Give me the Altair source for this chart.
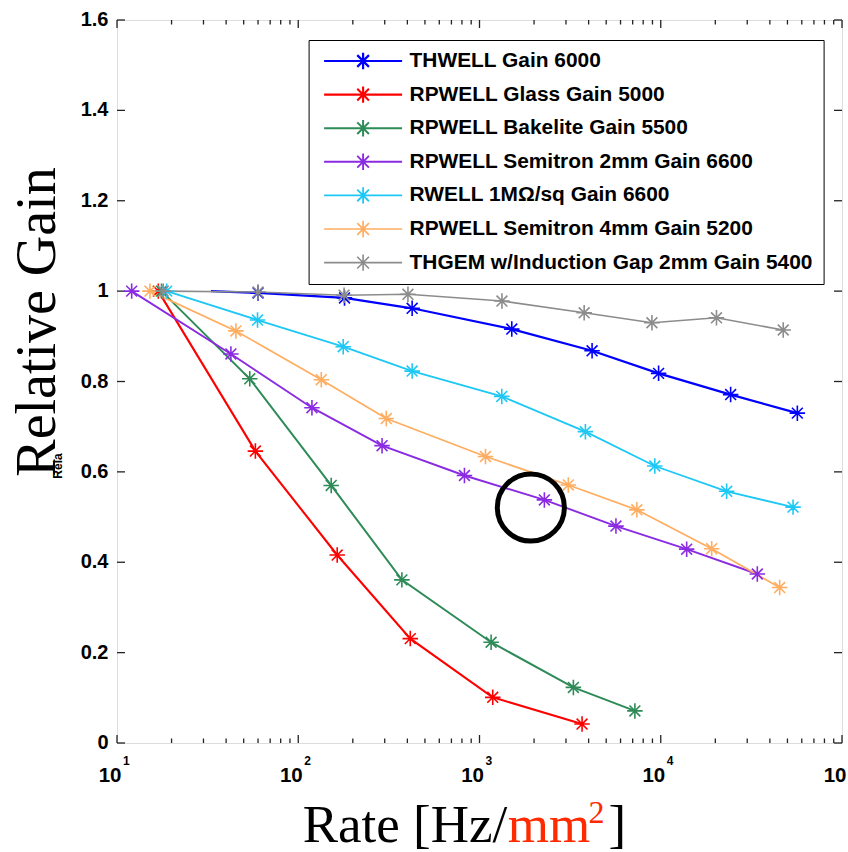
import altair as alt
import pandas as pd

# ---------------- data ----------------
names = [
    "THWELL Gain 6000",
    "RPWELL Glass Gain 5000",
    "RPWELL Bakelite Gain 5500",
    "RPWELL Semitron 2mm Gain 6600",
    "RWELL 1MΩ/sq Gain 6600",
    "RPWELL Semitron 4mm Gain 5200",
    "THGEM w/Induction Gap 2mm Gain 5400",
]
colors = ["#0000ff", "#ff0000", "#2e8b57", "#8a2be2", "#1ec8f5", "#ffad60", "#8c8c8c"]
widths = [2.2, 1.6, 1.6, 1.8, 1.6, 1.6, 1.6]

thwell_x = [33, 60, 180, 425, 1507, 4180, 9730, 24300, 56700]
thwell_y = [1.0, 0.996, 0.985, 0.962, 0.916, 0.868, 0.818, 0.771, 0.730]

glass_x = [16.9, 58, 164, 415, 1183, 3680]
glass_y = [1.0, 0.646, 0.416, 0.231, 0.101, 0.042]

bakelite_x = [17.6, 54, 152, 373, 1159, 3296, 7200]
bakelite_y = [1.0, 0.806, 0.570, 0.361, 0.223, 0.123, 0.071]

semi2_x = [12.05, 42.5, 119, 290, 826, 2280, 5660, 13900, 34100]
semi2_y = [1.0, 0.861, 0.742, 0.658, 0.592, 0.538, 0.480, 0.429, 0.374]

rwell_x = [18.8, 59.6, 177, 425, 1327, 3840, 9270, 23100, 53700]
rwell_y = [1.0, 0.936, 0.877, 0.823, 0.767, 0.689, 0.613, 0.557, 0.522]

semi4_x = [15.2, 45.3, 134, 306, 1079, 3090, 7380, 19100, 45300]
semi4_y = [1.0, 0.912, 0.804, 0.718, 0.634, 0.571, 0.516, 0.430, 0.344]

thgem_x = [18, 60, 179, 403, 1330, 3780, 8940, 20300, 47400]
thgem_y = [1.0, 0.998, 0.991, 0.993, 0.978, 0.952, 0.930, 0.941, 0.914]

# points of each series drawn without a marker (line start only)
no_marker = [0, None, None, None, None, None, None]

circle_x = [1920]
circle_y = [0.521]

x_major = [10, 100, 1000, 10000, 100000]
x_minor = [k * 10 ** e for e in range(1, 5) for k in range(2, 10)]
x_exps = [1, 2, 3, 4, 5]
y_ticks = [0, 0.2, 0.4, 0.6, 0.8, 1.0, 1.2, 1.4, 1.6]
y_labels = ["0", "0.2", "0.4", "0.6", "0.8", "1", "1.2", "1.4", "1.6"]

# ---------------- tables ----------------
all_x = [thwell_x, glass_x, bakelite_x, semi2_x, rwell_x, semi4_x, thgem_x]
all_y = [thwell_y, glass_y, bakelite_y, semi2_y, rwell_y, semi4_y, thgem_y]
rows = []
for si, (name, xs, ys) in enumerate(zip(names, all_x, all_y)):
    for i, (a, b) in enumerate(zip(xs, ys)):
        rows.append({"series": name, "rate": a, "gain": b, "order": si * 100 + i,
                     "marker": not (no_marker[si] == i)})
df = pd.DataFrame(rows)

W, H = 725, 723
FRAME = "#222222"
xscale = alt.Scale(type="log", domain=[10, 100000], nice=False)
yscale = alt.Scale(domain=[0, 1.6], nice=False, zero=False)

star = "M0,-1V1M-1,0H1M-0.7,-0.7L0.7,0.7M-0.7,0.7L0.7,-0.7"
leg_sym = "M-1,0H1M0,-0.21V0.21M-0.21,0H0.21M-0.15,-0.15L0.15,0.15M-0.15,0.15L0.15,-0.15"

legend = alt.Legend(
    title=None, orient="none", legendX=191.6, legendY=20,
    symbolType=leg_sym, symbolSize=6084, symbolStrokeWidth=1.6,
    labelFont="Liberation Sans", labelFontWeight="bold", labelFontSize=20.9,
    labelColor="black", clipHeight=20, rowPadding=12.6, labelOffset=6,
    padding=11, symbolOffset=3, strokeColor="black", fillColor="white",
    cornerRadius=0, labelLimit=700,
)
color = alt.Color("series:N", scale=alt.Scale(domain=names, range=colors), legend=legend)

X = alt.X("rate:Q", scale=xscale, axis=None)
Y = alt.Y("gain:Q", scale=yscale, axis=None)

lines = alt.Chart(df).mark_line(clip=True).encode(
    x=X, y=Y, color=color,
    strokeWidth=alt.StrokeWidth("series:N", scale=alt.Scale(domain=names, range=widths), legend=None),
    order="order:Q",
)
points = alt.Chart(df).transform_filter("datum.marker").mark_point(
    shape=star, size=240, filled=False, strokeWidth=1.6, opacity=1
).encode(x=X, y=Y, color=color)

circ = alt.Chart(pd.DataFrame({"rate": circle_x, "gain": circle_y})).mark_point(
    shape="circle", size=4500, filled=False, strokeWidth=5, color="black", opacity=1
).encode(x=X, y=Y)

# ticks (inward, on all four sides)
xmaj = pd.DataFrame({"v": x_major})
xmin = pd.DataFrame({"v": x_minor})
yt = pd.DataFrame({"v": y_ticks, "t": y_labels})
XV = alt.X("v:Q", scale=xscale, axis=None)
YV = alt.Y("v:Q", scale=yscale, axis=None)
tick_layers = []
for d, ln in [(xmaj, 8), (xmin, 4.5)]:
    tick_layers.append(alt.Chart(d).mark_rule(color=FRAME, strokeWidth=1.3).encode(
        x=XV, y=alt.value(H), y2=alt.value(H - ln)))
    tick_layers.append(alt.Chart(d).mark_rule(color=FRAME, strokeWidth=1.3).encode(
        x=XV, y=alt.value(0), y2=alt.value(ln)))
tick_layers.append(alt.Chart(yt).mark_rule(color=FRAME, strokeWidth=1.3).encode(
    y=YV, x=alt.value(0), x2=alt.value(8)))
tick_layers.append(alt.Chart(yt).mark_rule(color=FRAME, strokeWidth=1.3).encode(
    y=YV, x=alt.value(W - 8), x2=alt.value(W)))

ylab = alt.Chart(yt).mark_text(
    font="Liberation Sans", fontWeight="bold", fontSize=20, align="right",
    baseline="middle", color="black"
).encode(y=YV, x=alt.value(-8.5), text="t:N")

xe = pd.DataFrame({"v": [10.0 ** e for e in x_exps], "base": ["10"] * len(x_exps),
                   "exp": [str(e) for e in x_exps]})
xlab = alt.Chart(xe).mark_text(
    font="Liberation Sans", fontWeight="bold", fontSize=20.5, align="right",
    baseline="alphabetic", dx=4.5, color="black"
).encode(x=XV, y=alt.value(H + 38.7), text="base:N")
xexp = alt.Chart(xe).mark_text(
    font="Liberation Sans", fontWeight="bold", fontSize=12, align="left",
    baseline="alphabetic", dx=6, color="black"
).encode(x=XV, y=alt.value(H + 22), text="exp:N")


def label(txt, x, y, size, col="black", angle=0, font="Liberation Serif", weight="normal",
          align="left"):
    return alt.Chart(pd.DataFrame({"t": [txt]})).mark_text(
        font=font, fontSize=size, color=col, align=align, baseline="alphabetic",
        angle=angle, fontWeight=weight
    ).encode(x=alt.value(x), y=alt.value(y), text="t:N")


RED = "#ff2a00"
titles = [
    label("Rate [Hz/", 185.7, 821.7, 53),
    label("mm", 390.7, 821.7, 53, RED),
    label("2", 471.5, 803.3, 32, RED),
    label("]", 491.5, 821.7, 53),
    label("Relative Gain", -62, 302, 56, angle=270, align="center"),
    label("Rela", -55, 446, 12, angle=270, font="Liberation Sans", weight="bold",
          align="center"),
]

chart = alt.layer(
    *tick_layers, lines, points, circ, ylab, xlab, xexp, *titles
).properties(
    width=W, height=H, autosize="none",
    padding={"left": 117, "top": 20, "right": 6, "bottom": 109},
).configure_view(stroke=FRAME, strokeWidth=1.8, fill="white").configure(background="white")

chart.save("out.html", embed_options={"renderer": "svg", "actions": False})
